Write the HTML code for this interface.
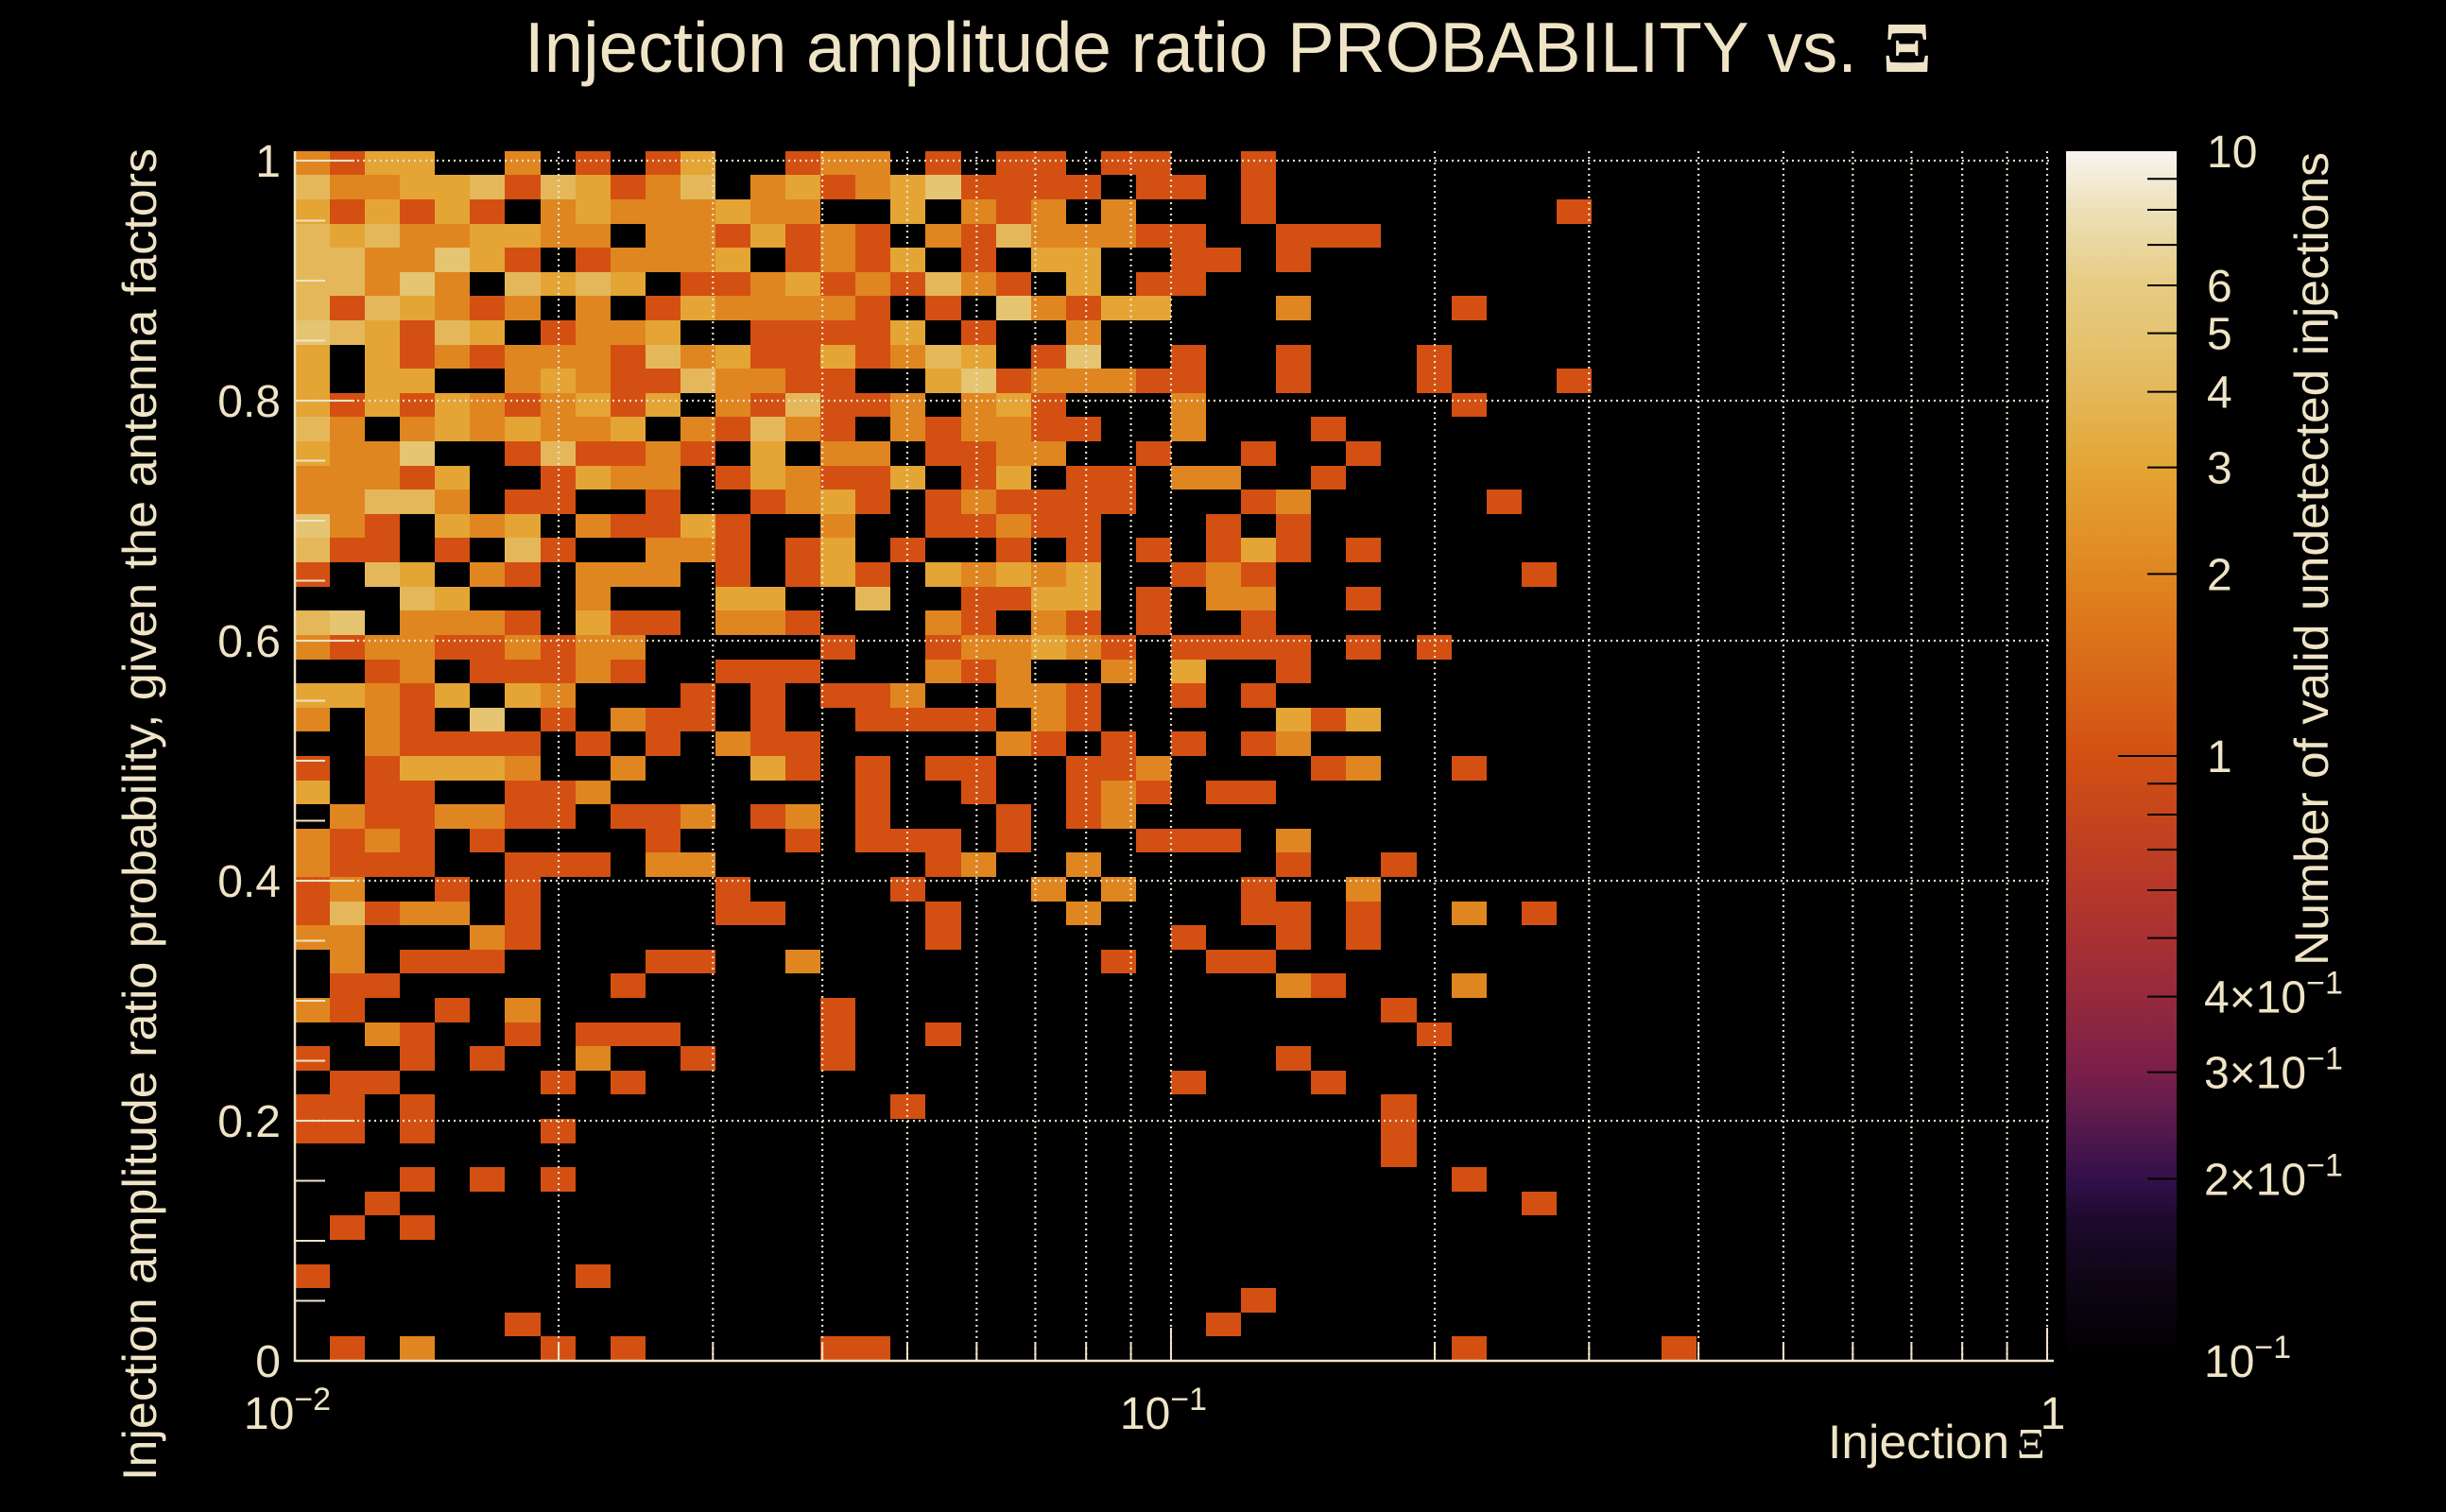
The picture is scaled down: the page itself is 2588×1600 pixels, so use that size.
<!DOCTYPE html>
<html>
<head>
<meta charset="utf-8">
<style>
html,body{margin:0;padding:0;background:#000;}
svg{display:block;}
text{font-family:"Liberation Sans",sans-serif;fill:#EFE4C6;}
</style>
</head>
<body>
<svg id="chart" width="2588" height="1600" viewBox="0 0 2588 1600" xmlns="http://www.w3.org/2000/svg">
  <rect x="0" y="0" width="2588" height="1600" fill="#000"/>
  <defs>
    <linearGradient id="cbgrad" x1="0" y1="1" x2="0" y2="0"></linearGradient>
  </defs>
  <g id="cells" shape-rendering="crispEdges"></g>
  <g id="grid"></g>
  <g id="axes"></g>
  <g id="colorbar"></g>
  <text x="555" y="76" font-size="75" textLength="1410" lengthAdjust="spacingAndGlyphs">Injection amplitude ratio PROBABILITY vs.</text>
  <text x="1992" y="76" font-size="76" font-weight="bold" style="font-family:'Liberation Serif',serif;">Ξ</text>
  <text transform="translate(165,862) rotate(-90)" text-anchor="middle" font-size="50" textLength="1410" lengthAdjust="spacingAndGlyphs">Injection amplitude ratio probability, given the antenna factors</text>
  <text x="1934" y="1543" font-size="50" textLength="192" lengthAdjust="spacingAndGlyphs">Injection</text>
  <text x="2134" y="1543" font-size="46" style="font-family:'Liberation Serif',serif;">Ξ</text>
  <text transform="translate(2463,1022) rotate(-90)" font-size="50" textLength="861" lengthAdjust="spacingAndGlyphs">Number of valid undetected injections</text>
</svg>
<script>
// ---- data ----
const xMin = 0.01, xMax = 1, nX = 50;
const yBinWidth = 0.02016;
// rows: top row (index 49) first; digit = count per cell, missing trailing digits = 0
const rows = [
"21330020101300122010"+"11011001",
"42233414312402312351"+"11101101",
"31313102322232200302"+"12020001"+"00000000"+"1",
"43422332202213121021"+"42221100111",
"44225310122230121301"+"033001101",
"44252043430112312142"+"103011",
"41432120201322221010"+"52133"+"000"+"2"+"0000"+"1",
"54314301223001111301"+"002",
"30312122214231131243"+"015"+"00"+"1"+"00"+"1"+"000"+"1",
"30330023211422110035"+"122211"+"00"+"1"+"000"+"1"+"000"+"1",
"31313212313021411202"+"31"+"000"+"2"+"0000000"+"1",
"42023232230214210212"+"211"+"00"+"2"+"000"+"1",
"32250014112103022011"+"22"+"00"+"1"+"00"+"1"+"00"+"1",
"22213001322013211301"+"3011022"+"00"+"1",
"22442011001001231012"+"1111"+"000"+"12"+"00000"+"1",
"52103230211310020011"+"211"+"000"+"1"+"0"+"1",
"41101041002210130100"+"10101013101",
"10430210222010131032"+"323"+"00"+"121"+"0000000"+"1",
"00043000200033004001"+"133"+"0"+"1"+"0"+"22"+"00"+"1",
"45022210311022100021"+"021"+"0"+"1"+"00"+"1",
"21221121220000010012"+"2321"+"0"+"1111"+"0"+"1"+"0"+"1",
"00120111210011100021"+"2"+"00"+"2"+"0"+"3"+"00"+"1",
"33213032000101011200"+"221"+"00"+"1"+"0"+"1",
"20210501021101001111"+"021"+"00000"+"313",
"00211110101021100000"+"21"+"0"+"1"+"0"+"1"+"0"+"12",
"10133320020003101011"+"00"+"112"+"0000"+"12"+"00"+"1",
"30110011200000001001"+"00"+"121"+"0"+"11",
"02112211011201201000"+"1"+"0"+"12",
"21210100001000101110"+"1"+"000"+"111"+"0"+"2",
"21110011102200000012"+"00"+"2"+"00000"+"1"+"00"+"1",
"12001010000010000100"+"0"+"2"+"0"+"2"+"000"+"1"+"00"+"2",
"14122010000011000010"+"00"+"2"+"0000"+"11"+"0"+"1"+"00"+"2"+"0"+"1",
"22000210000000000010"+"00000"+"1"+"00"+"1"+"0"+"1",
"02011100001100200000"+"000"+"1"+"00"+"11",
"01100000010000000000"+"00000000"+"21"+"000"+"2",
"21001020000000010000"+"00000000000"+"1",
"00210010111000010010"+"000000000000"+"1",
"10010100200100010000"+"00000000"+"1",
"01100001010000000000"+"00000"+"1"+"000"+"1",
"11010000000000000100"+"00000000000"+"1",
"11010001000000000000"+"00000000000"+"1",
"00000000000000000000"+"00000000000"+"1",
"00010101000000000000"+"0000000000000"+"1",
"00100000000000000000"+"000000000000000"+"1",
"0101",
"",
"100000001",
"00000000000000000000"+"0000000"+"1",
"00000010000000000000"+"000000"+"1",
"01020001010000011000"+"0000000000000"+"1"+"00000"+"1"
];
const yTicks = [0, 0.2, 0.4, 0.6, 0.8, 1];
const yTickLabels = ["0", "0.2", "0.4", "0.6", "0.8", "1"];
const xMajor = [0.01, 0.1, 1];
const xMajorBase = ["10", "10", "1"];
const xMajorExp = ["\u22122", "\u22121", ""];
const cbValues = [10, 6, 5, 4, 3, 2, 1, 0.4, 0.3, 0.2, 0.1];
const cbLabelBase = ["10", "6", "5", "4", "3", "2", "1", "4\u00d710", "3\u00d710", "2\u00d710", "10"];
const cbLabelExp = ["", "", "", "", "", "", "", "\u22121", "\u22121", "\u22121", "\u22121"];
// colormap stops: value, colour
const cmapVals = [0.1, 0.13, 0.17, 0.2, 0.25, 0.3, 0.4, 0.6, 1, 2, 3, 4, 5, 6, 8, 10];
const cmapCols = ["#000000","#0c0512","#1c0a2c","#33104a","#5a1a4c","#7a1f4a","#952a3c","#b6372a","#d35012","#e08620","#e4a535","#e4b85a","#e5c472","#e6cb82","#ede0b8","#f7f5f0"];

// ---- geometry ----
const PX0 = 312, PX1 = 2166, PY0 = 1440, PY1 = 160;
const xScale = v => PX0 + (Math.log10(v) - Math.log10(xMin)) / (Math.log10(xMax) - Math.log10(xMin)) * (PX1 - PX0);
const yScale = v => PY0 - v * 1270;
const CB_X0 = 2186, CB_X1 = 2303;
const cbScale = v => PY0 - (Math.log10(v) + 1) / 2 * (PY0 - PY1);
const NS = "http://www.w3.org/2000/svg";
function hex2rgb(h){return [parseInt(h.substr(1,2),16),parseInt(h.substr(3,2),16),parseInt(h.substr(5,2),16)];}
function colorFor(v){
  const lv = Math.log10(v);
  if (v <= cmapVals[0]) return cmapCols[0];
  for (let i = 1; i < cmapVals.length; i++){
    if (v <= cmapVals[i]){
      const a = Math.log10(cmapVals[i-1]), b = Math.log10(cmapVals[i]);
      const t = (lv - a)/(b - a);
      const c0 = hex2rgb(cmapCols[i-1]), c1 = hex2rgb(cmapCols[i]);
      return "rgb(" + c0.map((c,k)=>Math.round(c + (c1[k]-c)*t)).join(",") + ")";
    }
  }
  return cmapCols[cmapCols.length-1];
}
function mk(tag, attrs, parent){
  const el = document.createElementNS(NS, tag);
  for (const k in attrs) el.setAttribute(k, attrs[k]);
  parent.appendChild(el);
  return el;
}

// ---- cells ----
const cellsG = document.getElementById('cells');
const logStep = (Math.log10(xMax) - Math.log10(xMin)) / nX;
rows.forEach((rowStr, i) => {
  const r = rows.length - 1 - i;
  const s = rowStr.padEnd(nX, "0");
  for (let c = 0; c < nX; c++){
    const v = parseInt(s[c], 10);
    if (!v) continue;
    const xa = Math.round(xScale(Math.pow(10, Math.log10(xMin) + c*logStep)));
    const xb = Math.round(xScale(Math.pow(10, Math.log10(xMin) + (c+1)*logStep)));
    const ya = Math.round(yScale((r+1)*yBinWidth));
    const yb = Math.round(yScale(r*yBinWidth));
    const el = mk('rect', {x: xa, y: ya, width: xb-xa, height: yb-ya, fill: colorFor(v)}, cellsG);
    
    
  }
});

// ---- grid ----
const gridG = document.getElementById('grid');
const gridX = [];
for (let d = -2; d < 0; d++) for (let m = 2; m <= 10; m++) gridX.push(m * Math.pow(10, d));
gridX.forEach(v => {
  const x = xScale(v);
  const el = mk('line', {x1: x, x2: x, y1: PY1, y2: PY0, stroke: "#e8e0cc", "stroke-width": 2.2, "stroke-dasharray": "2 4"}, gridG);
  
  
});
yTicks.slice(1).forEach(v => {
  const y = yScale(v);
  const el = mk('line', {x1: PX0, x2: 2172, y1: y, y2: y, stroke: "#e8e0cc", "stroke-width": 2.2, "stroke-dasharray": "2 4"}, gridG);
  
  
});

// ---- axes ----
const axG = document.getElementById('axes');
const AX = "#EFE4C6";
let el;
el = mk('line', {x1: PX0, x2: PX0, y1: PY1, y2: PY0+1, stroke: AX, "stroke-width": 2.5}, axG);


el = mk('line', {x1: PX0, x2: 2173, y1: PY0, y2: PY0, stroke: AX, "stroke-width": 2.5}, axG);


for (let k = 0; k <= 20; k++){
  const v = k * 0.05;
  const y = yScale(v);
  const len = (k % 4 === 0) ? 63 : 32;
  el = mk('line', {x1: PX0, x2: PX0+len, y1: y, y2: y, stroke: AX, "stroke-width": 2}, axG);
  
  
}
yTicks.forEach((v, i) => {
  el = mk('text', {x: 297, y: yScale(v) + 17, "text-anchor": "end", "font-size": 48}, axG);
  el.textContent = yTickLabels[i];
  
  
});
gridX.concat([0.01]).forEach(v => {
  const x = xScale(v);
  const major = xMajor.some(m => Math.abs(m - v) < 1e-9);
  el = mk('line', {x1: x, x2: x, y1: PY0, y2: PY0 - (major ? 35 : 18), stroke: AX, "stroke-width": 2}, axG);
  
  
});
xMajor.forEach((v, i) => {
  const x = xScale(v);
  const t = mk('text', {x: x + (xMajorExp[i] ? -8 : 6), y: 1512, "text-anchor": "middle", "font-size": 48}, axG);
  
  
  const b = mk('tspan', {}, t); b.textContent = xMajorBase[i];
  if (xMajorExp[i]){
    const e = mk('tspan', {dy: -20, "font-size": 34}, t); e.textContent = xMajorExp[i];
  }
});

// ---- color bar ----
const cbG = document.getElementById('colorbar');
const grad = document.getElementById('cbgrad');
cmapVals.forEach((v, i) => {
  mk('stop', {offset: ((Math.log10(v)+1)/2).toFixed(4), "stop-color": cmapCols[i]}, grad);
});
el = mk('rect', {x: CB_X0, y: PY1, width: CB_X1-CB_X0, height: PY0-PY1, fill: "url(#cbgrad)"}, cbG);


const cbTickVals = [];
for (let d = -1; d < 1; d++) for (let m = 1; m <= 9; m++) cbTickVals.push(m * Math.pow(10, d));
cbTickVals.forEach(v => {
  if (v <= 0.1 + 1e-9) return;
  const y = cbScale(v);
  const major = Math.abs(v - 1) < 1e-9;
  el = mk('line', {x1: major ? 2241 : 2272, x2: CB_X1, y1: y, y2: y, stroke: "#000", "stroke-width": 2}, cbG);
  
  
});
cbValues.forEach((v, i) => {
  const y = cbScale(v) + 17;
  const t = mk('text', {x: cbLabelExp[i] ? 2332 : 2335, y: y, "font-size": 48}, cbG);
  
  
  const b = mk('tspan', {}, t); b.textContent = cbLabelBase[i];
  if (cbLabelExp[i]){
    const e = mk('tspan', {dy: -20, "font-size": 34}, t); e.textContent = cbLabelExp[i];
  }
});
</script>
</body>
</html>
